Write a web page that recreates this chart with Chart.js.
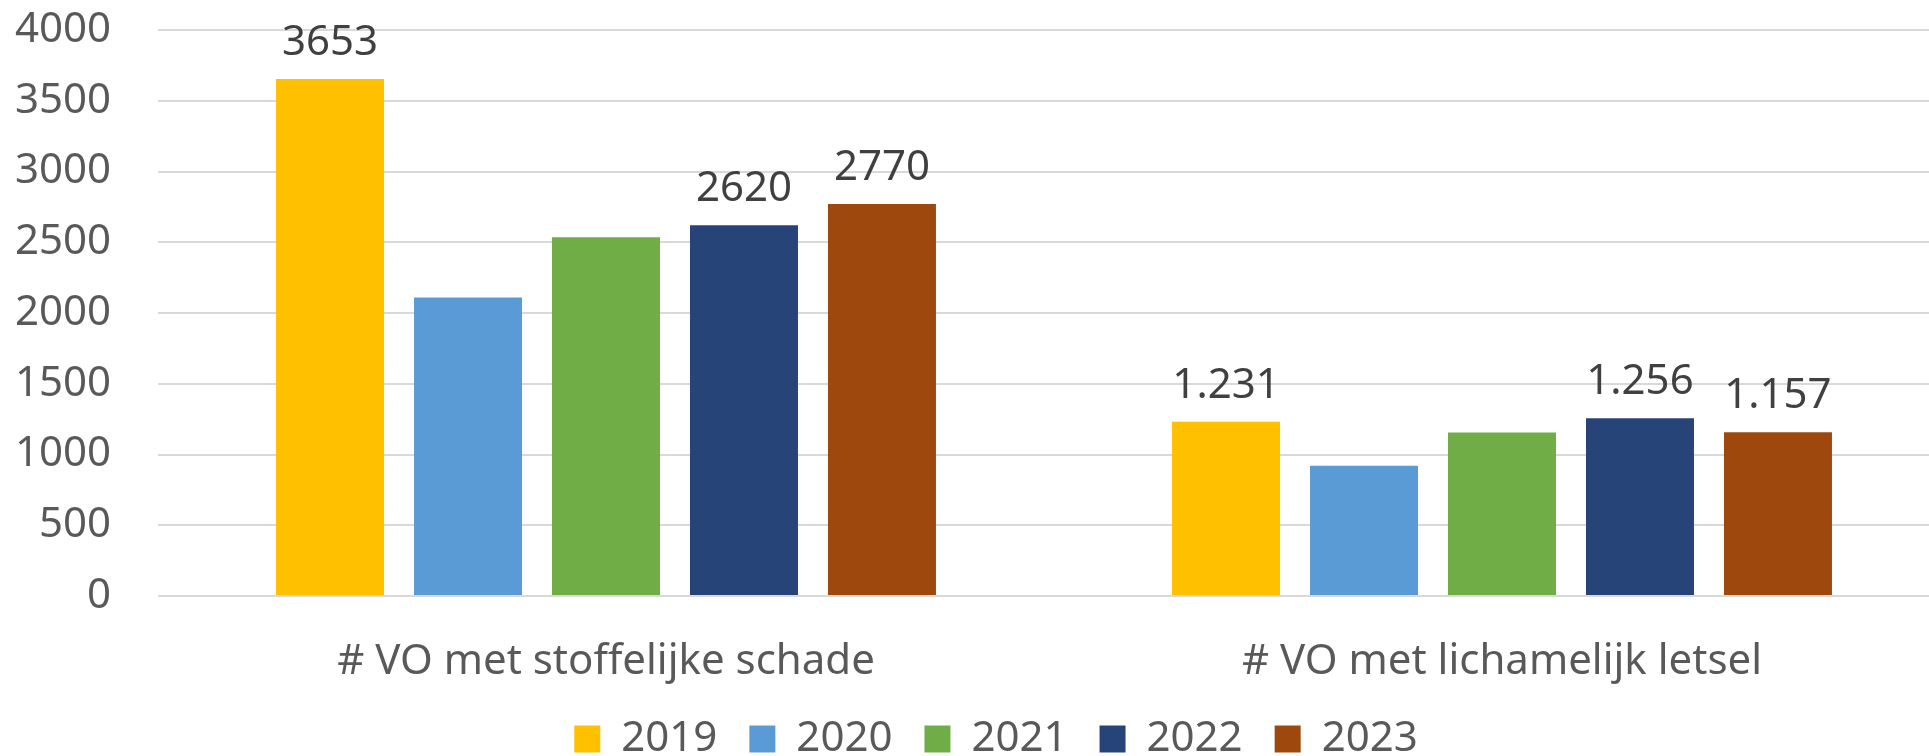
<!DOCTYPE html>
<html>
<head>
<meta charset="utf-8">
<script src="https://cdn.jsdelivr.net/npm/chart.js@4/dist/chart.umd.min.js"></script>
<style>
    html, body { margin: 0; padding: 0; background: #fff; overflow: hidden; }
    #wrap { width: 1950px; height: 756px; }
</style>
</head>
<body>
<div id="wrap"><canvas id="grafico"></canvas></div>
<script>
const categorias = ['# VO met stoffelijke schade', '# VO met lichamelijk letsel']
const jaren = ['2019', '2020', '2021', '2022', '2023']
const kleuren = ['#FFC000', '#5B9BD5', '#70AD47', '#264478', '#9E480E']

const waarden2019 = [3653, 1231]
const waarden2020 = [2109, 920]
const waarden2021 = [2535, 1156]
const waarden2022 = [2620, 1256]
const waarden2023 = [2770, 1157]

// labels boven de balken (leeg = geen label)
const labels2019 = ['3653', '1.231']
const labels2020 = ['', '']
const labels2021 = ['', '']
const labels2022 = ['2620', '1.256']
const labels2023 = ['2770', '1.157']

const yTicks = [0, 500, 1000, 1500, 2000, 2500, 3000, 3500, 4000]

const alleWaarden = [waarden2019, waarden2020, waarden2021, waarden2022, waarden2023]
const alleLabels = [labels2019, labels2020, labels2021, labels2022, labels2023]

const lettertype = "'Noto Sans', 'Open Sans', sans-serif"

const waardeLabels = {
    id: 'waardeLabels',
    afterDatasetsDraw(chart) {
        const ctx = chart.ctx
        ctx.save()
        ctx.font = `42px ${lettertype}`
        ctx.fillStyle = '#404040'
        ctx.textAlign = 'center'
        ctx.textBaseline = 'alphabetic'
        chart.data.datasets.forEach((ds, i) => {
            chart.getDatasetMeta(i).data.forEach((bar, j) => {
                const tekst = alleLabels[i][j]
                if (tekst) ctx.fillText(tekst, bar.x, bar.y - 24)
            })
        })
        ctx.restore()
    }
}

const ctx = document.getElementById('grafico').getContext('2d')

const grafico = new Chart(ctx, {
    type: 'bar',
    data: {
        labels: categorias,
        datasets: jaren.map((jaar, i) => ({
            label: jaar,
            data: alleWaarden[i],
            backgroundColor: kleuren[i],
            categoryPercentage: 0.77,
            barPercentage: 0.7826
        }))
    },
    options: {
        responsive: true,
        maintainAspectRatio: false,
        animation: false,
        layout: {
            padding: { left: 42, top: 30, right: 0, bottom: 0 }
        },
        plugins: {
            tooltip: { enabled: false },
            legend: {
                position: 'bottom',
                maxHeight: 70,
                labels: {
                    font: { family: lettertype, size: 42 },
                    color: '#595959',
                    boxWidth: 26,
                    boxHeight: 27,
                    padding: 32
                }
            }
        },
        scales: {
            x: {
                afterFit(scale) { scale.height = 90 },
                grid: { display: false, drawTicks: false },
                border: { display: false },
                ticks: {
                    font: { family: lettertype, size: 42 },
                    color: '#595959',
                    padding: 41
                }
            },
            y: {
                min: 0,
                max: 4000,
                afterFit(scale) { scale.width = 116 },
                afterBuildTicks(scale) { scale.ticks = yTicks.map(v => ({ value: v })) },
                grid: { color: '#D9D9D9', lineWidth: 2, drawTicks: false },
                border: { display: false },
                ticks: {
                    font: { family: lettertype, size: 42 },
                    color: '#595959',
                    callback: v => String(v),
                    mirror: true,
                    crossAlign: 'far',
                    padding: -143
                }
            }
        }
    },
    plugins: [waardeLabels]
})
</script>
</body>
</html>
